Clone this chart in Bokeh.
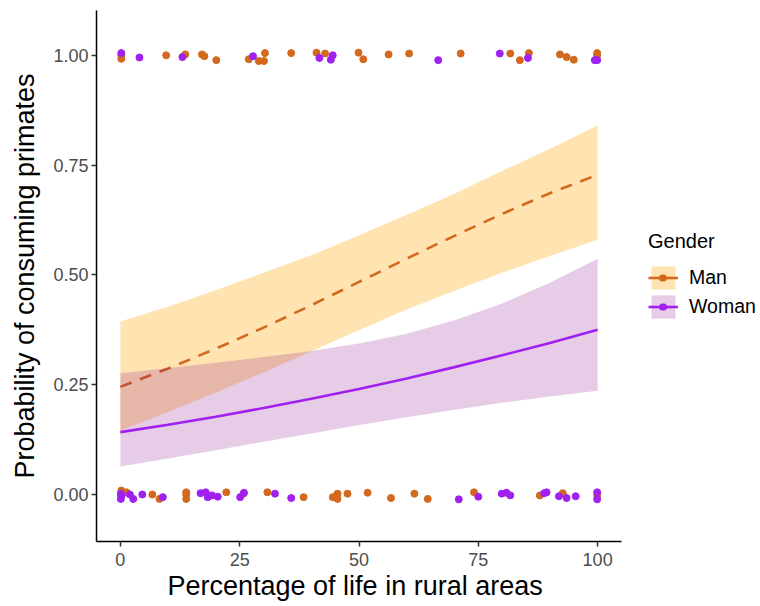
from bokeh.plotting import figure
from bokeh.models import Legend, LegendItem, FixedTicker, Range1d, Title
from bokeh.embed import file_html
from bokeh.resources import INLINE

# ---- data ----
grid_x = [0, 10, 20, 30, 40, 50, 60, 70, 80, 90, 100]

man_fit = [0.245, 0.287, 0.332, 0.380, 0.431, 0.484, 0.537, 0.589, 0.639, 0.686, 0.728]
man_lower = [0.146, 0.188, 0.232, 0.278, 0.326, 0.374, 0.421, 0.464, 0.505, 0.543, 0.580]
man_upper = [0.394, 0.428, 0.465, 0.505, 0.545, 0.590, 0.637, 0.685, 0.737, 0.787, 0.840]

woman_fit = [0.142, 0.159, 0.177, 0.197, 0.218, 0.240, 0.264, 0.290, 0.317, 0.345, 0.375]
woman_lower = [0.064, 0.082, 0.101, 0.120, 0.139, 0.158, 0.176, 0.193, 0.209, 0.223, 0.236]
woman_upper = [0.276, 0.288, 0.300, 0.313, 0.327, 0.344, 0.366, 0.397, 0.435, 0.482, 0.537]

man_pts_x = [0.2, 0.2, 9.6, 13.6, 17.1, 17.6, 20.1, 26.9, 29.0, 30.1, 30.3, 35.8, 41.1, 42.9,
             49.9, 50.9, 56.2, 60.5, 71.3, 81.7, 83.7, 85.6, 92.1, 93.5, 95.0, 99.9, 99.9,
             0.2, 1.3, 6.7, 8.2, 13.8, 13.8, 13.8, 22.2, 25.8, 30.8, 38.4, 44.5, 45.5, 45.5,
             47.6, 51.8, 56.7, 61.6, 64.4, 74.1, 87.9, 92.7, 99.9]
man_pts_y = [1.0, 0.992, 1.0, 1.002, 1.002, 0.998, 0.989, 0.991, 0.987, 0.987, 1.005, 1.005, 1.006, 1.004,
             1.006, 0.991, 1.002, 1.004, 1.004, 1.004, 0.989, 1.005, 1.002, 0.996, 0.99, 1.005, 1.0,
             0.009, 0.005, 0.0, -0.01, 0.005, 0.0, -0.01, 0.005, 0.002, 0.005, -0.006, -0.006, 0.002, -0.01,
             0.002, 0.004, -0.008, 0.002, -0.01, 0.005, -0.002, 0.003, -0.002]

woman_pts_x = [0.2, 4.0, 13.0, 27.8, 41.7, 44.5, 44.1, 66.6, 79.5, 85.4, 99.4, 99.9,
               0.1, 0.1, 0.2, 2.0, 2.7, 4.6, 8.9, 16.8, 17.9, 18.3, 19.2, 20.4, 25.1, 25.9,
               32.4, 35.8, 70.9, 75.0, 79.9, 80.9, 81.7, 88.8, 89.3, 91.9, 93.5, 95.4, 99.9, 99.9]
woman_pts_y = [1.005, 0.995, 0.996, 0.998, 0.994, 1.0, 0.99, 0.989, 1.004, 0.994, 0.989, 0.989,
               0.002, -0.01, -0.004, 0.0, -0.01, 0.0, -0.006, 0.003, 0.005, -0.006, -0.002, -0.005, -0.006, 0.004,
               0.002, -0.008, -0.011, -0.005, 0.002, 0.004, -0.002, 0.003, 0.005, -0.004, -0.008, -0.004, 0.005, -0.011]

groups = ["Man", "Woman"]
x_ticks = [0, 25, 50, 75, 100]
x_tick_labels = ["0", "25", "50", "75", "100"]
y_ticks = [0.0, 0.25, 0.5, 0.75, 1.0]
y_tick_labels = ["0.00", "0.25", "0.50", "0.75", "1.00"]

MAN_COL = "#D2691E"
WOMAN_COL = "#A020F0"
MAN_FILL = "#FFA500"
WOMAN_FILL = "#800080"
FONT = "Liberation Sans"

# frame spans 96..760 px; data x -5..105 must occupy 96..621 px
X0, X1 = -5, 105
frame_w = 760 - 96
x_end = X0 + (X1 - X0) * frame_w / 525.0

p = figure(width=760, height=606, output_backend="svg", toolbar_location=None,
           x_range=Range1d(X0, x_end), y_range=Range1d(-0.107, 1.102),
           min_border_left=96, min_border_right=0, min_border_top=10, min_border_bottom=65)
p.outline_line_color = None
p.xgrid.visible = False
p.ygrid.visible = False
p.background_fill_color = "white"
p.border_fill_color = "white"

# ribbons and lines, per group
p.varea(x=grid_x, y1=man_lower, y2=man_upper, fill_color=MAN_FILL, fill_alpha=0.3)
p.line(x=grid_x, y=man_fit, line_color=MAN_COL, line_width=2.6, line_dash="12 9")
p.varea(x=grid_x, y1=woman_lower, y2=woman_upper, fill_color=WOMAN_FILL, fill_alpha=0.2)
p.line(x=grid_x, y=woman_fit, line_color=WOMAN_COL, line_width=2.6)

# points
p.scatter(x=man_pts_x, y=man_pts_y, size=7, fill_color=MAN_COL, line_color=MAN_COL)
p.scatter(x=woman_pts_x, y=woman_pts_y, size=7, fill_color=WOMAN_COL, line_color=WOMAN_COL)

# hidden renderers used only for legend keys (solid line + small dot, as in ggplot legend)
def key_renderers(lo, hi, fit, fill, fill_alpha, col):
    b = p.varea(x=grid_x, y1=lo, y2=hi, fill_color=fill, fill_alpha=fill_alpha, visible=False)
    l = p.line(x=grid_x, y=fit, line_color=col, line_width=2.6, visible=False)
    d = p.line(x=grid_x, y=fit, line_color=col, line_width=7, line_cap="round",
               line_dash="1 200", line_dash_offset=-14, visible=False)
    return [b, l, d]

legend = Legend(items=[LegendItem(label=groups[0], renderers=key_renderers(man_lower, man_upper, man_fit, MAN_FILL, 0.3, MAN_COL)),
                       LegendItem(label=groups[1], renderers=key_renderers(woman_lower, woman_upper, woman_fit, WOMAN_FILL, 0.2, WOMAN_COL))],
                location=(552, 220), title="Gender",
                title_text_font=FONT, title_text_font_size="20px", title_text_color="black",
                title_text_font_style="normal", title_standoff=10,
                label_text_font=FONT, label_text_font_size="19.5px", label_text_color="black",
                glyph_width=30, glyph_height=29, label_height=29, label_standoff=11,
                spacing=0, padding=0, margin=0,
                inactive_fill_alpha=0, click_policy="none",
                border_line_color=None, background_fill_alpha=0)
p.add_layout(legend, "center")

for ax, ticks, labels in ((p.xaxis[0], x_ticks, x_tick_labels), (p.yaxis[0], y_ticks, y_tick_labels)):
    ax.ticker = FixedTicker(ticks=ticks)
    ax.major_label_overrides = {t: l for t, l in zip(ticks, labels)}
    ax.minor_tick_line_color = None
    ax.major_tick_in = 0
    ax.major_tick_out = 5
    ax.major_tick_line_color = "#333333"
    ax.major_tick_line_width = 1.5
    ax.axis_line_color = "black"
    ax.axis_line_width = 1.5
    ax.major_label_text_font = FONT
    ax.major_label_text_font_size = "18px"
    ax.major_label_text_color = "#4D4D4D"
    ax.axis_label_text_font = FONT
    ax.axis_label_text_font_size = "27px"
    ax.axis_label_text_font_style = "normal"
    ax.axis_label_text_color = "black"

p.xaxis[0].bounds = (X0, X1)
p.xaxis[0].major_label_standoff = 6
p.yaxis[0].major_label_standoff = 3
p.yaxis[0].axis_label = "Probability of consuming primates"
p.yaxis[0].axis_label_standoff = 10

xtitle = Title(text="Percentage of life in rural areas", align="left", offset=71,
               text_font=FONT, text_font_size="27px", text_font_style="normal",
               text_color="black", standoff=0)
p.add_layout(xtitle, "below")

open("out.html", "w").write(file_html(p, INLINE))
